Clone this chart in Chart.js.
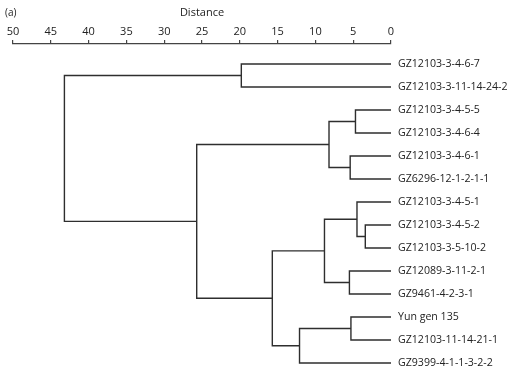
<!DOCTYPE html>
<html>
<head>
<meta charset="utf-8">
<script src="https://cdn.jsdelivr.net/npm/chart.js@4"></script>
<style>
  html, body { margin: 0; padding: 0; background: #fff; }
  #wrap { width: 514px; height: 374px; position: relative; }
</style>
</head>
<body>
<div id="wrap"><canvas id="chart"></canvas></div>
<script>
// leaf labels, top to bottom
const leaves = [
  'GZ12103-3-4-6-7',
  'GZ12103-3-11-14-24-2',
  'GZ12103-3-4-5-5',
  'GZ12103-3-4-6-4',
  'GZ12103-3-4-6-1',
  'GZ6296-12-1-2-1-1',
  'GZ12103-3-4-5-1',
  'GZ12103-3-4-5-2',
  'GZ12103-3-5-10-2',
  'GZ12089-3-11-2-1',
  'GZ9461-4-2-3-1',
  'Yun gen 135',
  'GZ12103-11-14-21-1',
  'GZ9399-4-1-1-3-2-2'
];

// merges (linkage style): node ids 0..13 are leaves, new nodes start at 14
const mergeA = [7, 6, 2, 11, 4, 9, 16, 15, 17, 21, 0, 20, 24];
const mergeB = [8, 14, 3, 12, 5, 10, 18, 19, 13, 22, 1, 23, 25];
const mergeDist = [3.4, 4.5, 4.7, 5.3, 5.4, 5.5, 8.2, 8.8, 12.1, 15.7, 19.8, 25.7, 43.2];

const xTicks = [50, 45, 40, 35, 30, 25, 20, 15, 10, 5, 0];

// node positions
const nodeY = leaves.map((_, i) => i);
const nodeH = leaves.map(() => 0);
const datasets = [];
mergeA.forEach((a, k) => {
  const b = mergeB[k], h = mergeDist[k];
  datasets.push({
    data: [
      { x: nodeH[a], y: nodeY[a] },
      { x: h, y: nodeY[a] },
      { x: h, y: nodeY[b] },
      { x: nodeH[b], y: nodeY[b] }
    ]
  });
  nodeY.push((nodeY[a] + nodeY[b]) / 2);
  nodeH.push(h);
});
datasets.forEach(d => {
  d.showLine = true;
  d.borderColor = '#2e2e2e';
  d.borderWidth = 1.4;
  d.pointRadius = 0;
  d.tension = 0;
  d.clip = false;
});

const panelLabel = {
  id: 'panelLabel',
  afterDraw(chart) {
    const ctx = chart.ctx;
    ctx.save();
    ctx.font = '10px "Open Sans"';
    ctx.fillStyle = '#222';
    ctx.textBaseline = 'middle';
    ctx.fillText('(a)', 5, 13);
    ctx.restore();
  }
};

new Chart(document.getElementById('chart'), {
  type: 'scatter',
  data: { datasets },
  plugins: [panelLabel],
  options: {
    responsive: true,
    maintainAspectRatio: false,
    animation: false,
    layout: { padding: { left: 13, right: 0, top: 0, bottom: 0 } },
    plugins: { legend: { display: false }, tooltip: { enabled: false } },
    scales: {
      x: {
        type: 'linear',
        position: 'top',
        reverse: true,
        min: 0,
        max: 50,
        afterBuildTicks: s => { s.ticks = xTicks.map(v => ({ value: v })); },
        afterFit: s => { s.height = 44; },
        title: {
          display: true,
          text: 'Distance',
          color: '#222',
          font: { family: 'Open Sans', size: 11 },
          padding: { top: 6, bottom: 0 }
        },
        ticks: {
          color: '#222',
          font: { family: 'Open Sans', size: 11 },
          padding: 2,
          maxRotation: 0
        },
        grid: {
          drawOnChartArea: false,
          drawTicks: true,
          tickLength: 4,
          color: '#444',
          lineWidth: 1.2
        },
        border: { display: true, color: '#444', width: 1.3 }
      },
      y: {
        type: 'linear',
        position: 'right',
        reverse: true,
        min: -0.87,
        max: 13.48,
        afterBuildTicks: s => { s.ticks = leaves.map((_, i) => ({ value: i })); },
        afterFit: s => { s.width = 123; s.paddingTop = 0; s.paddingBottom = 0; },
        ticks: {
          autoSkip: false,
          color: '#222',
          font: { family: 'Open Sans', size: 10.6 },
          padding: 7,
          callback: v => leaves[v]
        },
        grid: { display: false, drawTicks: false },
        border: { display: false }
      }
    }
  }
});
</script>
</body>
</html>
